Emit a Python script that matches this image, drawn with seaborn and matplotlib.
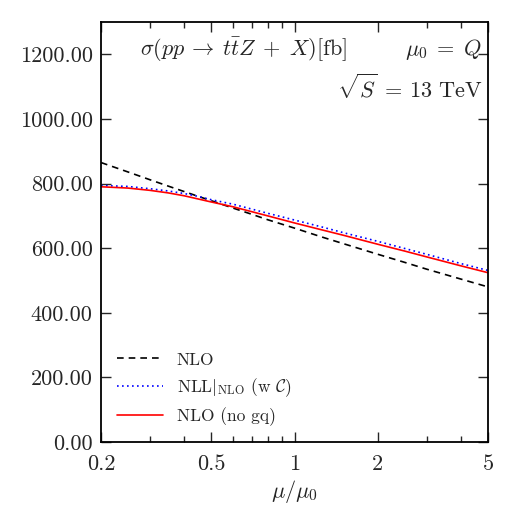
import numpy as np
import pandas as pd
import matplotlib
matplotlib.use("Agg")
import matplotlib.pyplot as plt
import seaborn as sns
from matplotlib.ticker import FixedLocator, FixedFormatter, NullFormatter

mu = [0.2, 0.25, 0.3, 0.35, 0.4, 0.45, 0.5, 0.6, 0.7, 0.8, 1.0, 1.25, 1.5, 2.0, 2.5, 3.0, 4.0, 5.0]
nlo = [865, 836, 812, 792, 775, 760, 747, 724, 705, 688, 662, 635, 614, 581, 556, 535, 504, 480]
nll = [794, 791, 784, 777, 769, 760, 750, 736, 721, 708, 687, 666, 648, 621, 599, 581, 552, 531]
nlo_nogq = [790, 786, 779, 771, 762, 752, 743, 728, 713, 700, 678, 657, 640, 612, 591, 573, 545, 524]

labels = ["NLO", r"NLL$|_{\rm NLO}$ (w $\mathcal{C}$)", "NLO (no gq)"]
y_ticks = [0, 200, 400, 600, 800, 1000, 1200]
y_ticklabels = ["0.00", "200.00", "400.00", "600.00", "800.00", "1000.00", "1200.00"]
x_ticks = [0.2, 0.5, 1, 2, 5]
x_ticklabels = ["0.2", "0.5", "1", "2", "5"]
x_minor = [0.3, 0.4, 0.6, 0.7, 0.8, 0.9, 3, 4]

sns.set_theme(style="ticks")
plt.rcParams["font.family"] = ["cmr10", "DejaVu Serif"]
plt.rcParams["mathtext.fontset"] = "cm"
plt.rcParams["axes.formatter.use_mathtext"] = True
plt.rcParams["axes.unicode_minus"] = False

df = pd.DataFrame({
    "mu": mu * 3,
    "sigma": nlo + nll + nlo_nogq,
    "series": [labels[0]] * len(mu) + [labels[1]] * len(mu) + [labels[2]] * len(mu),
})

fig = plt.figure(figsize=(5.19, 5.05), dpi=100)
ax = fig.add_axes([0.1946, 0.1248, 0.7457, 0.8316])

palette = {labels[0]: "black", labels[1]: "blue", labels[2]: "red"}
dashes = {labels[0]: (4, 3), labels[1]: (1, 2), labels[2]: ""}
sns.lineplot(data=df, x="mu", y="sigma", hue="series", style="series",
             palette=palette, dashes=dashes, ax=ax, linewidth=1.2,
             hue_order=labels, style_order=labels)

ax.set_xscale("log")
ax.set_xlim(0.2, 5)
ax.set_ylim(0, 1300)
ax.xaxis.set_major_locator(FixedLocator(x_ticks))
ax.xaxis.set_major_formatter(FixedFormatter(x_ticklabels))
ax.xaxis.set_minor_locator(FixedLocator(x_minor))
ax.xaxis.set_minor_formatter(NullFormatter())
ax.yaxis.set_major_locator(FixedLocator(y_ticks))
ax.yaxis.set_major_formatter(FixedFormatter(y_ticklabels))

ax.tick_params(which="both", direction="in", top=True, right=True, labelsize=16, width=1.0)
ax.tick_params(which="major", length=7)
ax.tick_params(axis="y", which="major", pad=6)
ax.tick_params(axis="x", which="major", pad=9)
ax.tick_params(which="minor", length=4)
for s in ax.spines.values():
    s.set_linewidth(1.3)
    s.set_color("black")

ax.set_xlabel(r"$\mu/\mu_0$", fontsize=16, labelpad=3)
ax.set_ylabel("")

ax.text(0.10, 0.935, r"$\sigma(pp\:\rightarrow\:t\bar{t}Z\;+\;X)[\mathrm{fb}]$", transform=ax.transAxes,
        fontsize=16, ha="left", va="center")
ax.text(0.985, 0.935, r"$\mu_0\;=\;Q$", transform=ax.transAxes, fontsize=16, ha="right", va="center")
ax.text(0.985, 0.845, r"$\sqrt{S}\:=\:13\ \mathrm{TeV}$", transform=ax.transAxes, fontsize=16,
        ha="right", va="center")

leg = ax.legend(loc="lower left", bbox_to_anchor=(0.0, 0.0), frameon=False, fontsize=12.5,
                handlelength=2.7, handletextpad=0.75, labelspacing=0.5)

fig.savefig("out.png", dpi=100)
